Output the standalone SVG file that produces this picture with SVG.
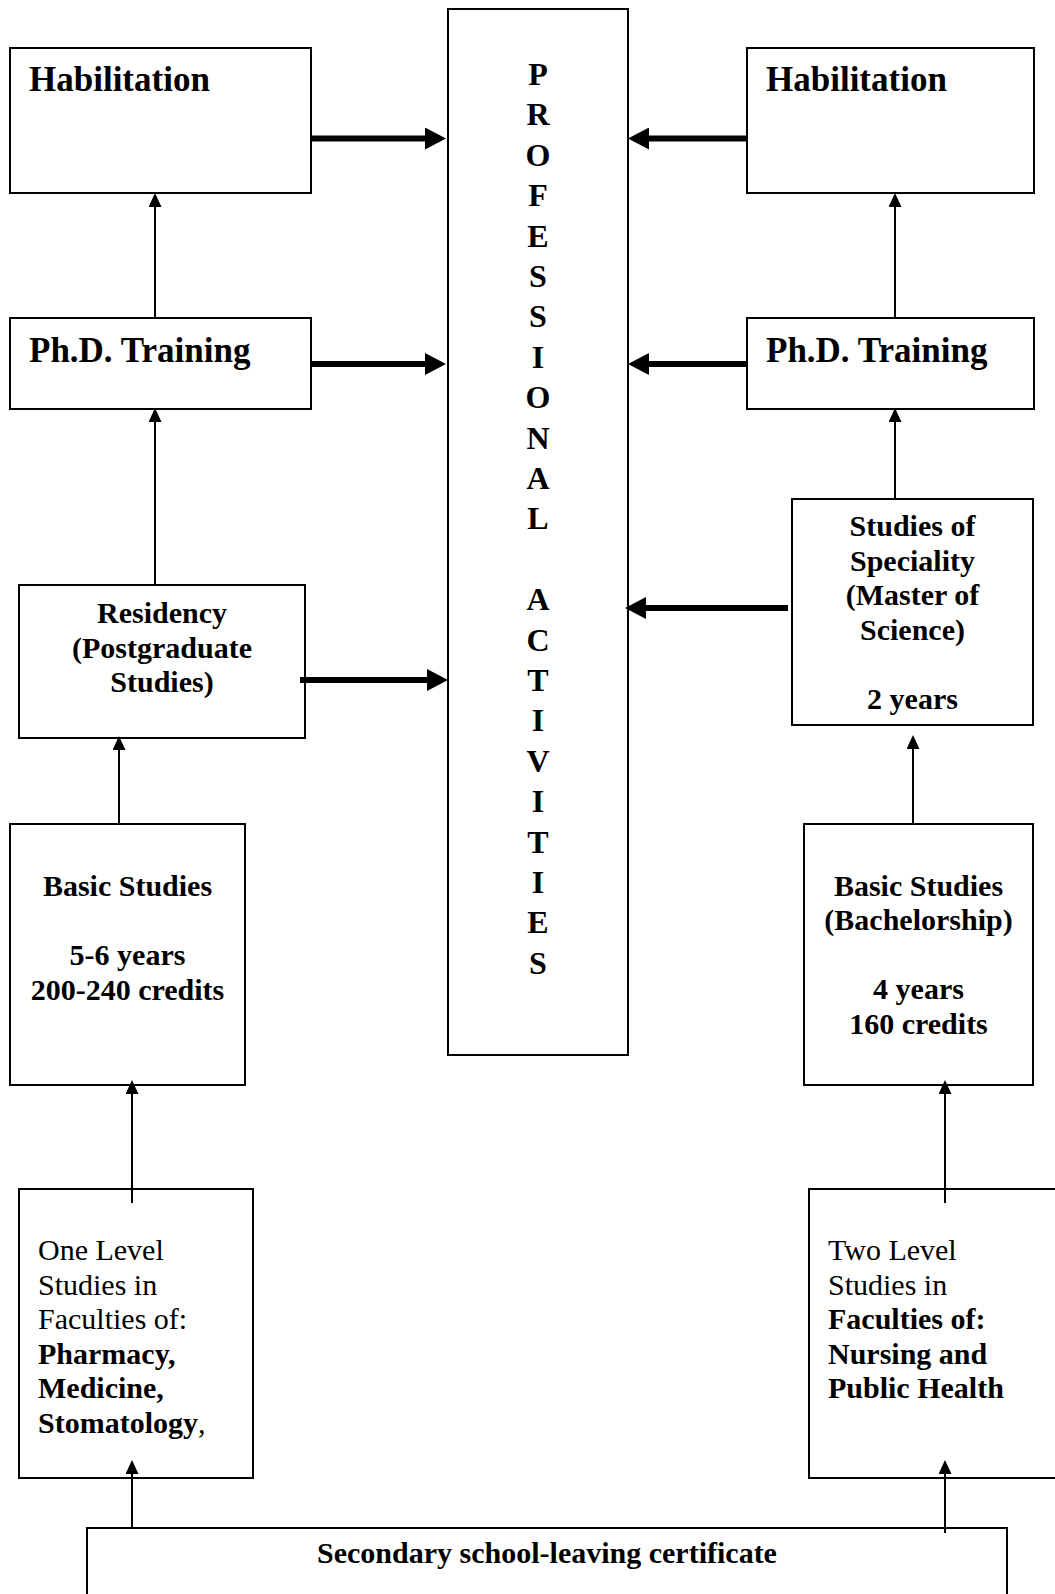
<svg xmlns="http://www.w3.org/2000/svg" width="1055" height="1594" viewBox="0 0 1055 1594">
<style>
  .box { fill: #fff; stroke: #000; stroke-width: 2; }
  .t { font-family: "Liberation Serif", "Times New Roman", serif; fill: #000; }
  .h { font-size: 35px; font-weight: bold; }
  .b { font-size: 30px; font-weight: bold; }
  .r { font-size: 30px; font-weight: normal; }
  .v { font-size: 32px; font-weight: bold; }
  .thin { stroke: #000; stroke-width: 2; fill: none; marker-end: url(#ah); }
  .thick { stroke: #000; stroke-width: 6; fill: none; marker-end: url(#AH); }
</style>
<defs>
  <marker id="ah" markerUnits="userSpaceOnUse" viewBox="0 0 14 13" markerWidth="14" markerHeight="13" refX="11" refY="6.5" orient="auto">
    <path d="M0,0 L14,6.5 L0,13 z" fill="#000"/>
  </marker>
  <marker id="AH" markerUnits="userSpaceOnUse" viewBox="0 0 21 22" markerWidth="21" markerHeight="22" refX="15" refY="11" orient="auto">
    <path d="M0,0 L21,11 L0,22 z" fill="#000"/>
  </marker>
</defs>
<rect width="1055" height="1594" fill="#fff"/>

<g id="professional">
  <rect class="box" x="448" y="9" width="180" height="1046"/>
  <g class="t v" text-anchor="middle">
    <text x="538" y="85">P</text>
    <text x="538" y="125.4">R</text>
    <text x="538" y="165.8">O</text>
    <text x="538" y="206.2">F</text>
    <text x="538" y="246.6">E</text>
    <text x="538" y="287">S</text>
    <text x="538" y="327.4">S</text>
    <text x="538" y="367.8">I</text>
    <text x="538" y="408.2">O</text>
    <text x="538" y="448.6">N</text>
    <text x="538" y="489">A</text>
    <text x="538" y="529.4">L</text>
    <text x="538" y="610.2">A</text>
    <text x="538" y="650.6">C</text>
    <text x="538" y="691">T</text>
    <text x="538" y="731.4">I</text>
    <text x="538" y="771.8">V</text>
    <text x="538" y="812.2">I</text>
    <text x="538" y="852.6">T</text>
    <text x="538" y="893">I</text>
    <text x="538" y="933.4">E</text>
    <text x="538" y="973.8">S</text>
  </g>
</g>

<g id="hab-left">
  <rect class="box" x="10" y="48" width="301" height="145"/>
  <text class="t h" x="29" y="91">Habilitation</text>
</g>
<g id="phd-left">
  <rect class="box" x="10" y="318" width="301" height="91"/>
  <text class="t h" x="29" y="362">Ph.D. Training</text>
</g>
<g id="residency">
  <rect class="box" x="19" y="585" width="286" height="153"/>
  <g class="t b" text-anchor="middle">
    <text x="162" y="623">Residency</text>
    <text x="162" y="657.5">(Postgraduate</text>
    <text x="162" y="692">Studies)</text>
  </g>
</g>
<g id="basic-left">
  <rect class="box" x="10" y="824" width="235" height="261"/>
  <g class="t b" text-anchor="middle">
    <text x="127.5" y="895.5">Basic Studies</text>
    <text x="127.5" y="965">5-6 years</text>
    <text x="127.5" y="999.5">200-240 credits</text>
  </g>
</g>
<g id="one-level">
  <rect class="box" x="19" y="1189" width="234" height="289"/>
  <g class="t">
    <text class="r" x="38" y="1260">One Level</text>
    <text class="r" x="38" y="1294.5">Studies in</text>
    <text class="r" x="38" y="1329">Faculties of:</text>
    <text class="b" x="38" y="1363.5">Pharmacy,</text>
    <text class="b" x="38" y="1398">Medicine,</text>
    <text class="b" x="38" y="1432.5">Stomatology<tspan class="r">,</tspan></text>
  </g>
</g>

<g id="hab-right">
  <rect class="box" x="747" y="48" width="287" height="145"/>
  <text class="t h" x="766" y="91">Habilitation</text>
</g>
<g id="phd-right">
  <rect class="box" x="747" y="318" width="287" height="91"/>
  <text class="t h" x="766" y="362">Ph.D. Training</text>
</g>
<g id="speciality">
  <rect class="box" x="792" y="499" width="241" height="226"/>
  <g class="t b" text-anchor="middle">
    <text x="912.5" y="536">Studies of</text>
    <text x="912.5" y="570.5">Speciality</text>
    <text x="912.5" y="605">(Master of</text>
    <text x="912.5" y="639.5">Science)</text>
    <text x="912.5" y="708.5">2 years</text>
  </g>
</g>
<g id="basic-right">
  <rect class="box" x="804" y="824" width="229" height="261"/>
  <g class="t b" text-anchor="middle">
    <text x="918.5" y="895.5">Basic Studies</text>
    <text x="918.5" y="930">(Bachelorship)</text>
    <text x="918.5" y="999">4 years</text>
    <text x="918.5" y="1033.5">160 credits</text>
  </g>
</g>
<g id="two-level">
  <rect class="box" x="809" y="1189" width="260" height="289"/>
  <g class="t">
    <text class="r" x="828" y="1260">Two Level</text>
    <text class="r" x="828" y="1294.5">Studies in</text>
    <text class="b" x="828" y="1329">Faculties of:</text>
    <text class="b" x="828" y="1363.5">Nursing and</text>
    <text class="b" x="828" y="1398">Public Health</text>
  </g>
</g>

<g id="secondary">
  <rect class="box" x="87" y="1528" width="920" height="80"/>
  <text class="t b" x="547" y="1563" text-anchor="middle">Secondary school-leaving certificate</text>
</g>

<g id="connectors">
  <line class="thick" x1="311" y1="138.5" x2="440" y2="138.5"/>
  <line class="thick" x1="311" y1="364" x2="440" y2="364"/>
  <line class="thick" x1="300" y1="680" x2="442" y2="680"/>
  <line class="thick" x1="747" y1="138.5" x2="634" y2="138.5"/>
  <line class="thick" x1="747" y1="364" x2="634" y2="364"/>
  <line class="thick" x1="788" y1="608" x2="631" y2="608"/>

  <line class="thin" x1="155" y1="318" x2="155" y2="196"/>
  <line class="thin" x1="155" y1="585" x2="155" y2="411"/>
  <line class="thin" x1="119" y1="824" x2="119" y2="739"/>
  <line class="thin" x1="132" y1="1203" x2="132" y2="1083"/>
  <line class="thin" x1="132" y1="1528" x2="132" y2="1463"/>
  <line class="thin" x1="895" y1="318" x2="895" y2="196"/>
  <line class="thin" x1="895" y1="499" x2="895" y2="411"/>
  <line class="thin" x1="913" y1="824" x2="913" y2="738"/>
  <line class="thin" x1="945" y1="1203" x2="945" y2="1083"/>
  <line class="thin" x1="945" y1="1533" x2="945" y2="1463"/>
</g>
</svg>
